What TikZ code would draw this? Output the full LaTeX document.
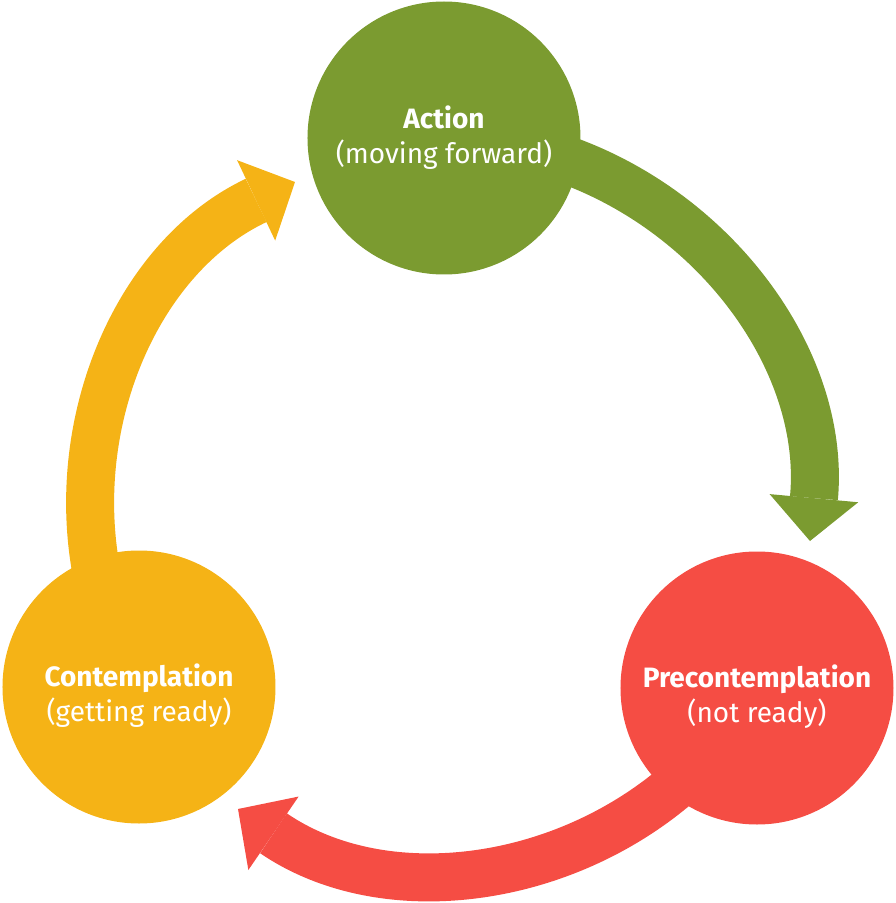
\documentclass[tikz,border=0pt]{standalone}
\usepackage{fontspec}
\setmainfont{Fira Sans}
\usetikzlibrary{arrows.meta,backgrounds}
\definecolor{actgreen}{HTML}{7B9B30}
\definecolor{prered}{HTML}{F54D44}
\definecolor{conyellow}{HTML}{F5B316}
\newcommand{\lowline}{\rule{0pt}{39pt}}
\tikzset{
  stage/.style={circle, minimum size=273pt, inner sep=0pt, text=white,
    align=center, font=\fontsize{28}{35}\selectfont},
  cycle/.style={line width=48pt, -{Triangle[width=89pt,length=43pt,line width=0pt]},
    bend left=47.5},
}
\begin{document}
\begin{tikzpicture}[x=1pt,y=1pt]
  \useasboundingbox (-448,-402) rectangle (448,501);
  \node[stage, fill=actgreen] (act) at (-4,363) {\textbf{Action}\\(moving forward)};
  \node[stage, fill=prered] (pre) at (309,-187) {\lowline\textbf{Precontemplation}\\(not ready)};
  \node[stage, fill=conyellow] (con) at (-309,-186) {\lowline\textbf{Contemplation}\\(getting ready)};
  \coordinate (pretip) at (362,-40);
  \coordinate (contip) at (-210,-308);
  \coordinate (acttip) at (-153,319);
  \begin{scope}[on background layer]
    \draw[cycle, actgreen] (act.center) to (pretip);
    \draw[cycle, prered] (pre.center) to (contip);
    \draw[cycle, conyellow] (con.center) to (acttip);
  \end{scope}
\end{tikzpicture}
\end{document}
